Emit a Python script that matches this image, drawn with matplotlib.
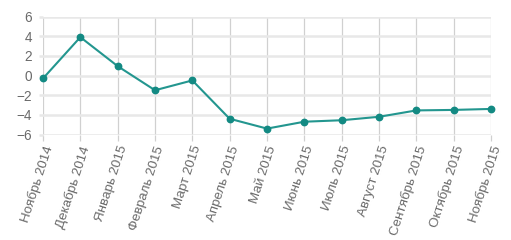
import matplotlib
matplotlib.use('Agg')
import matplotlib.pyplot as plt

months = ['Ноябрь 2014', 'Декабрь 2014', 'Январь 2015', 'Февраль 2015', 'Март 2015',
          'Апрель 2015', 'Май 2015', 'Июнь 2015', 'Июль 2015', 'Август 2015',
          'Сентябрь 2015', 'Октябрь 2015', 'Ноябрь 2015']
values = [-0.3, 3.9, 0.95, -1.5, -0.5, -4.4, -5.4, -4.7, -4.55, -4.2, -3.55, -3.5, -3.4]

plt.rcParams['font.family'] = ['Liberation Sans', 'DejaVu Sans']

fig = plt.figure(figsize=(5.11, 2.40), dpi=100)
ax = fig.add_axes([43 / 511, 1 - 134.5 / 240, 448 / 511, 118 / 240])

x = list(range(len(months)))
ax.plot(x, values, color='#23968f', linewidth=1.5, marker='o', markersize=4.6,
        markerfacecolor='#138a83', markeredgecolor='#138a83', zorder=3, clip_on=False)

ax.set_xlim(0, len(months) - 1)
ax.set_ylim(-6, 6)
ax.set_yticks(range(-6, 7, 2))
ax.set_xticks(x)
ax.set_xticklabels(months, rotation=72, ha='right', va='top', rotation_mode='anchor')

for s in ax.spines.values():
    s.set_visible(False)

ax.grid(axis='y', color='#e8e8e8', linewidth=1.8)
ax.grid(axis='x', color='#d0d0d0', linewidth=0.9)
ax.set_axisbelow(True)
ax.tick_params(axis='x', length=4, color='#d0d0d0', width=0.9, pad=3, labelsize=9.6, labelcolor='#6a6a6a')
ax.tick_params(axis='y', length=3, color='#e8e8e8', width=1.8, pad=5, labelsize=9.8, labelcolor='#6a6a6a')

fig.savefig('out.png', dpi=100)
